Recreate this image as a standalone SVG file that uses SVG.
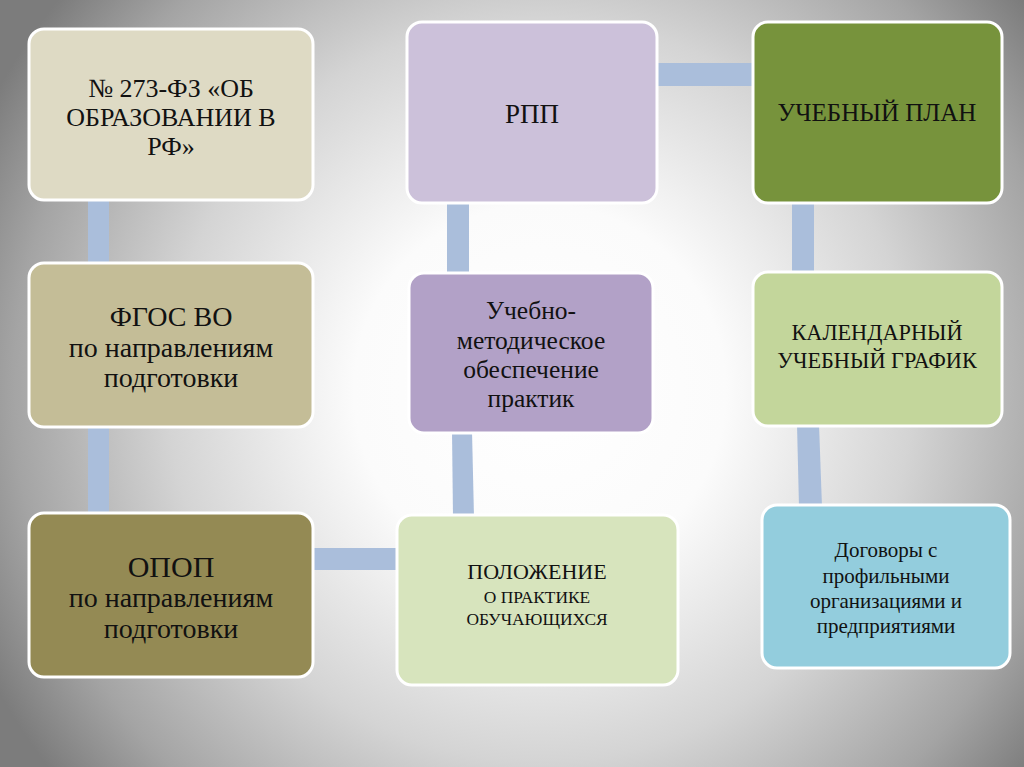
<svg xmlns="http://www.w3.org/2000/svg" width="1024" height="767" viewBox="0 0 1024 767" font-family="'Liberation Serif', 'DejaVu Serif', serif">
<defs>
<radialGradient id="bg" cx="540" cy="390" r="620" gradientUnits="userSpaceOnUse">
<stop offset="0" stop-color="#ffffff"/>
<stop offset="0.3" stop-color="#fbfbfb"/>
<stop offset="0.6" stop-color="#d4d4d4"/>
<stop offset="0.85" stop-color="#a4a4a4"/>
<stop offset="1" stop-color="#7c7c7c"/>
</radialGradient>
<style>
.box{stroke:#ffffff;stroke-width:3}
.con{fill:#aabedb}
.t{font-family:'Liberation Serif','DejaVu Serif',serif;fill:#111111;text-anchor:middle}
</style>
</defs>
<rect width="1024" height="767" fill="url(#bg)"/>
<g id="connectors">
<rect class="con" x="88" y="198" width="21" height="67"/>
<rect class="con" x="88" y="425" width="21" height="90"/>
<rect class="con" x="311" y="548" width="88" height="22"/>
<polygon class="con" points="452,431 472,431 474,517 453,517"/>
<rect class="con" x="447" y="201" width="22" height="74"/>
<rect class="con" x="655" y="63" width="100" height="23"/>
<rect class="con" x="792" y="201" width="22" height="73"/>
<polygon class="con" points="797,424 819,424 822,507 799,507"/>
</g>
<g id="n1">
<rect class="box" x="29" y="29" width="284" height="171" rx="15" fill="#dedac4"/>
<text class="t" font-size="26"><tspan x="171" y="97">№ 273-ФЗ «ОБ</tspan><tspan x="171" y="126">ОБРАЗОВАНИИ В</tspan><tspan x="171" y="155">РФ»</tspan></text>
</g>
<g id="n2">
<rect class="box" x="29" y="263" width="284" height="164" rx="15" fill="#c4bd97"/>
<text class="t" font-size="28"><tspan x="171" y="326">ФГОС ВО</tspan><tspan x="171" y="357">по направлениям</tspan><tspan x="171" y="387">подготовки</tspan></text>
</g>
<g id="n3">
<rect class="box" x="29" y="513" width="284" height="164" rx="15" fill="#948a54"/>
<text class="t" font-size="28"><tspan x="171" y="577" font-size="30">ОПОП</tspan><tspan x="171" y="607">по направлениям</tspan><tspan x="171" y="638">подготовки</tspan></text>
</g>
<g id="n4">
<rect class="box" x="407" y="22" width="250" height="181" rx="15" fill="#ccc1da"/>
<text class="t" font-size="27" x="532" y="123">РПП</text>
</g>
<g id="n5">
<rect class="box" x="409" y="273" width="244" height="160" rx="15" fill="#b2a1c7"/>
<text class="t" font-size="25.5"><tspan x="531" y="319">Учебно-</tspan><tspan x="531" y="349">методическое</tspan><tspan x="531" y="378">обеспечение</tspan><tspan x="531" y="407">практик</tspan></text>
</g>
<g id="n6">
<rect class="box" x="397" y="515" width="281" height="170" rx="15" fill="#d7e4bd"/>
<text class="t"><tspan x="537" y="579" font-size="22">ПОЛОЖЕНИЕ</tspan><tspan x="537" y="603" font-size="17.4">О ПРАКТИКЕ</tspan><tspan x="537" y="625" font-size="17.4">ОБУЧАЮЩИХСЯ</tspan></text>
</g>
<g id="n7">
<rect class="box" x="753" y="22" width="249" height="181" rx="15" fill="#77933c"/>
<text class="t" font-size="25" x="877" y="121">УЧЕБНЫЙ ПЛАН</text>
</g>
<g id="n8">
<rect class="box" x="753" y="272" width="249" height="154" rx="15" fill="#c3d69b"/>
<text class="t" font-size="22.3"><tspan x="877" y="340">КАЛЕНДАРНЫЙ</tspan><tspan x="877" y="368">УЧЕБНЫЙ ГРАФИК</tspan></text>
</g>
<g id="n9">
<rect class="box" x="762" y="505" width="248" height="163" rx="15" fill="#93cddd"/>
<text class="t" font-size="21"><tspan x="886" y="557">Договоры с</tspan><tspan x="886" y="583">профильными</tspan><tspan x="886" y="608">организациями и</tspan><tspan x="886" y="633">предприятиями</tspan></text>
</g>
</svg>
